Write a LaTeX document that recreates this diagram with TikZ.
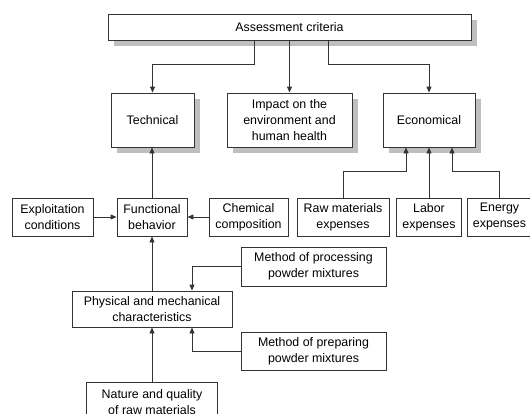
\documentclass[tikz,border=0pt]{standalone}
\usepackage{fontspec}
\setmainfont{Liberation Sans}
\usepackage{tikz}
\usetikzlibrary{arrows.meta, positioning, calc, shadows}

\begin{document}
\begin{tikzpicture}[
    x=1pt, y=-1pt,
    >={Triangle[length=6pt, width=5pt]},
    font=\fontsize{12.4}{16}\selectfont,
    box/.style={draw=black!80, line width=0.9pt, fill=white, align=center, inner sep=0pt, minimum height=38pt},
    shadow box/.style={box, drop shadow={shadow xshift=6pt, shadow yshift=-6pt, fill=black!25, opacity=1}},
    link/.style={draw=black!80, line width=0.9pt, ->}
]
    \useasboundingbox (0,0) rectangle (530,413);

    % ==================== CRITERIA ====================
    \node[shadow box, minimum width=363pt, minimum height=26pt] (crit) at (289.5,27) {Assessment criteria};
    \node[shadow box, minimum width=83pt, minimum height=54pt] (tech) at (152.5,120) {Technical};
    \node[shadow box, minimum width=125pt, minimum height=54pt] (impact) at (289.5,120) {Impact on the\\environment and\\human health};
    \node[shadow box, minimum width=92pt, minimum height=54pt] (econ) at (429,120) {Economical};

    % Criteria links
    \path[link] ([xshift=-35.5pt]crit.south) -- ++(0,24) -| (tech.north);
    \path[link] (crit.south) -- (impact.north);
    \path[link] ([xshift=38.5pt]crit.south) -- ++(0,24) -| (econ.north);

    % ==================== FACTORS ====================
    \node[box, minimum width=81pt] (exploit) at (52.5,217) {Exploitation\\conditions};
    \node[box, minimum width=70pt] (func) at (152,217) {Functional\\behavior};
    \node[box, minimum width=79pt] (chem) at (248.5,217) {Chemical\\composition};
    \node[box, minimum width=92pt] (raw) at (343,217) {Raw materials\\expenses};
    \node[box, minimum width=65pt] (labor) at (429,217) {Labor\\expenses};
    \node[box, minimum width=65pt] (energy) at (499.5,217) {Energy\\expenses};

    \path[link] (func.north) -- (func.north |- tech.south);
    \path[link] (exploit) -- (func);
    \path[link] (chem) -- (func);
    \path[link] (raw.north) -- ++(0,-26) -| ([xshift=-23pt]econ.south);
    \path[link] (labor.north) -- (econ.south);
    \path[link] (energy.north) -- ++(0,-26) -| ([xshift=23pt]econ.south);

    % ==================== MATERIALS ====================
    \node[box, minimum width=145pt, minimum height=39pt] (procmeth) at (313.5,266.5) {Method of processing\\powder mixtures};
    \node[box, minimum width=160pt, minimum height=36pt] (phys) at (152,309) {Physical and mechanical\\characteristics};
    \node[box, minimum width=145pt] (prepmeth) at (313.5,351) {Method of preparing\\powder mixtures};
    \node[box, minimum width=131pt, minimum height=40pt] (nature) at (152,402) {Nature and quality\\of raw materials};

    \path[link] (phys) -- (func);
    \path[link] (procmeth.west) -| ([xshift=40pt]phys.north);
    \path[link] (prepmeth.west) -| ([xshift=40pt]phys.south);
    \path[link] (nature) -- (phys);
\end{tikzpicture}
\end{document}
